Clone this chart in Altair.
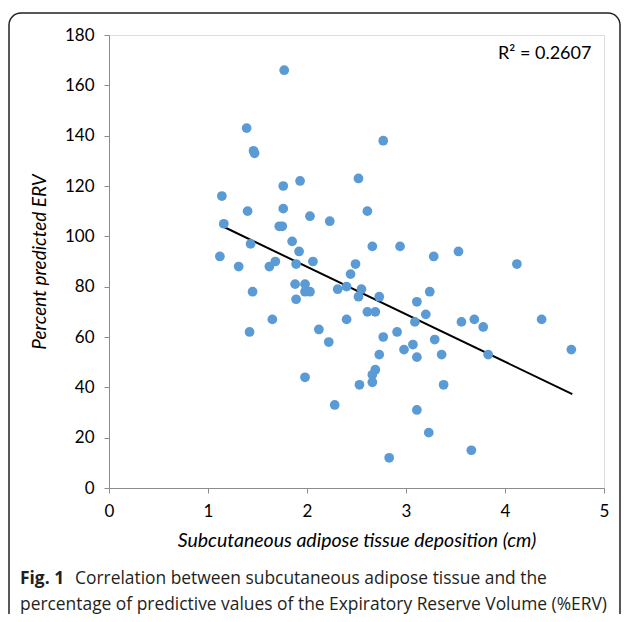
import altair as alt
import pandas as pd

# Subcutaneous adipose tissue deposition (cm)
sat_cm = [1.12, 1.14, 1.16, 1.31, 1.39, 1.40, 1.43, 1.42, 1.45, 1.46,
          1.47, 1.65, 1.62, 1.68, 1.72, 1.75, 1.76, 1.76, 1.77, 1.85,
          1.89, 1.88, 1.89, 1.93, 1.92, 1.98, 1.98, 1.98, 2.03, 2.03,
          2.06, 2.12, 2.22, 2.23, 2.28, 2.31, 2.40, 2.40, 2.44, 2.49,
          2.52, 2.52, 2.53, 2.55, 2.61, 2.61, 2.66, 2.66, 2.66, 2.69,
          2.69, 2.73, 2.73, 2.77, 2.77, 2.83, 2.91, 2.94, 2.98, 3.07,
          3.09, 3.11, 3.11, 3.11, 3.20, 3.23, 3.24, 3.28, 3.29, 3.36,
          3.38, 3.53, 3.56, 3.66, 3.69, 3.78, 3.83, 4.12, 4.37, 4.67]
# Percent predicted ERV
erv_pct = [92, 116, 105, 88, 143, 110, 97, 62, 78, 134,
           133, 67, 88, 90, 104, 104, 111, 120, 166, 98,
           75, 81, 89, 122, 94, 78, 81, 44, 78, 108,
           90, 63, 58, 106, 33, 79, 80, 67, 85, 89,
           123, 76, 41, 79, 70, 110, 96, 45, 42, 47,
           70, 76, 53, 60, 138, 12, 62, 96, 55, 57,
           66, 74, 31, 52, 69, 22, 78, 92, 59, 53,
           41, 94, 66, 15, 67, 64, 53, 89, 67, 55]

# Linear trend line end points (as drawn)
trend_x = [1.12, 4.68]
trend_y = [104.5, 37.3]

x_ticks = [0, 1, 2, 3, 4, 5]
y_ticks = [0, 20, 40, 60, 80, 100, 120, 140, 160, 180]

r2_label = ["R\u00b2 = 0.2607"]
caption_bold = "Fig. 1"
caption_line1 = "Correlation between subcutaneous adipose tissue and the"
caption_line2 = "percentage of predictive values of the Expiratory Reserve Volume (%ERV)"

pts = pd.DataFrame({"x": sat_cm, "y": erv_pct})
trend = pd.DataFrame({"x": trend_x, "y": trend_y})

W, H = 495, 453
axis_color = "#8c8c8c"
label_font = "Lato"

xs = alt.Scale(domain=[0, 5], nice=False, zero=True)
ys = alt.Scale(domain=[0, 180], nice=False, zero=True)

x_axis = alt.Axis(values=x_ticks, format="d", grid=False, domainColor=axis_color,
                  tickColor=axis_color, tickSize=5, labelFont=label_font, labelFontSize=17,
                  labelColor="#000000", labelPadding=10, labelFlush=False,
                  title="Subcutaneous adipose tissue deposition (cm)",
                  titleFont=label_font, titleFontSize=19.5, titleFontStyle="italic",
                  titleFontWeight="normal", titleColor="#000000", titlePadding=12)
y_axis = alt.Axis(values=y_ticks, format="d", grid=False, domainColor=axis_color,
                  tickColor=axis_color, tickSize=5, labelFont=label_font, labelFontSize=17,
                  labelColor="#000000", labelPadding=10, labelFlush=False,
                  title="Percent predicted ERV",
                  titleFont=label_font, titleFontSize=19, titleFontStyle="italic",
                  titleFontWeight="normal", titleColor="#000000", titlePadding=15)

points = alt.Chart(pts).mark_circle(size=95, color="#5B9BD5", opacity=1).encode(
    x=alt.X("x:Q", scale=xs, axis=x_axis),
    y=alt.Y("y:Q", scale=ys, axis=y_axis),
)

line = alt.Chart(trend).mark_line(color="#000000", strokeWidth=2).encode(
    x=alt.X("x:Q", scale=xs),
    y=alt.Y("y:Q", scale=ys),
)

r2 = alt.Chart(pd.DataFrame({"t": r2_label})).mark_text(
    font=label_font, fontSize=18, align="left", baseline="middle", color="#000000"
).encode(x=alt.value(389), y=alt.value(19), text="t:N")

frame = alt.Chart(pd.DataFrame({"a": [0]})).mark_rect(
    fill=None, filled=False, stroke="#222222", strokeWidth=1.5, cornerRadius=12
).encode(x=alt.value(-100), x2=alt.value(511), y=alt.value(-22), y2=alt.value(640))

cap_font = "Open Sans"
cap_color = "#231f20"
cap_size = 17.4

cap_bold = alt.Chart(pd.DataFrame({"t": [caption_bold]})).mark_text(
    font=cap_font, fontSize=cap_size, fontWeight="bold", align="left", baseline="middle",
    color=cap_color
).encode(x=alt.value(-89), y=alt.value(544), text="t:N")

cap1 = alt.Chart(pd.DataFrame({"t": [caption_line1]})).mark_text(
    font=cap_font, fontSize=cap_size, align="left", baseline="middle", color=cap_color
).encode(x=alt.value(-34), y=alt.value(544), text="t:N")

cap2 = alt.Chart(pd.DataFrame({"t": [caption_line2]})).mark_text(
    font=cap_font, fontSize=cap_size, align="left", baseline="middle", color=cap_color
).encode(x=alt.value(-89), y=alt.value(570), text="t:N")

chart = alt.layer(frame, line, points, r2, cap_bold, cap1, cap2).properties(
    width=W, height=H,
    autosize=alt.AutoSizeParams(type="none"),
    padding={"left": 101, "top": 27, "right": 17, "bottom": 126},
).configure_view(stroke=None).configure(background="#ffffff")

chart.save("out.html", embed_options={"renderer": "svg", "actions": False})
